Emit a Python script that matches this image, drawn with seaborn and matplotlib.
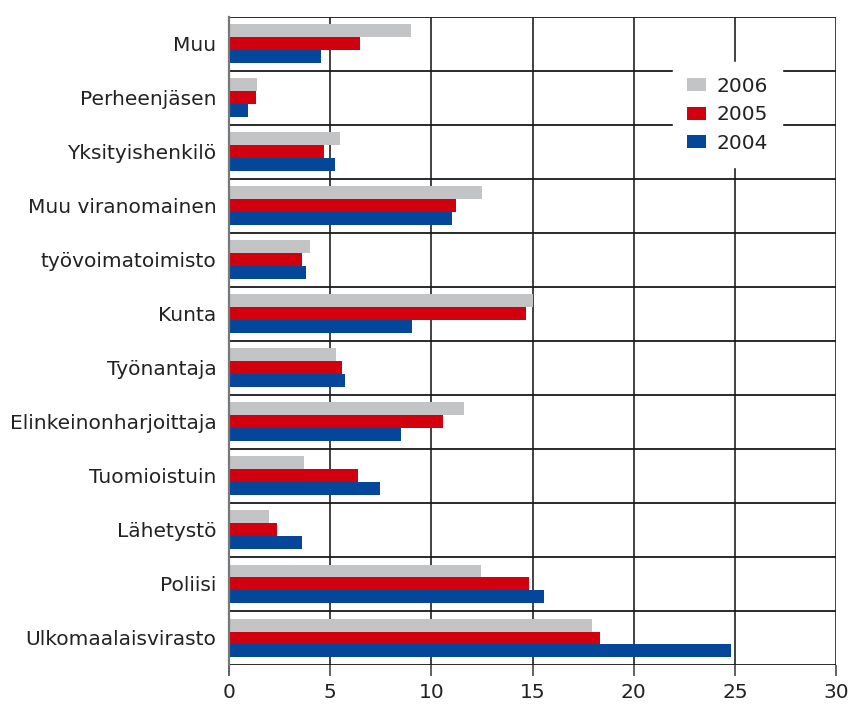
import matplotlib
matplotlib.use("Agg")
import matplotlib.pyplot as plt
import seaborn as sns
import pandas as pd
import numpy as np

categories = ["Muu", "Perheenjäsen", "Yksityishenkilö", "Muu viranomainen",
              "työvoimatoimisto", "Kunta", "Työnantaja", "Elinkeinonharjoittaja",
              "Tuomioistuin", "Lähetystö", "Poliisi", "Ulkomaalaisvirasto"]
v2006 = [9.0, 1.4, 5.5, 12.5, 4.0, 15.0, 5.3, 11.6, 3.7, 2.0, 12.45, 17.95]
v2005 = [6.45, 1.35, 4.7, 11.2, 3.6, 14.7, 5.6, 10.6, 6.4, 2.35, 14.85, 18.35]
v2004 = [4.55, 0.95, 5.25, 11.0, 3.8, 9.05, 5.75, 8.5, 7.45, 3.6, 15.55, 24.8]
years = ["2006", "2005", "2004"]
colors = ["#C3C4C6", "#D2000F", "#03469A"]
xticks = [0, 5, 10, 15, 20, 25, 30]

rows = []
for y, vals in zip(years, [v2006, v2005, v2004]):
    for c, v in zip(categories, vals):
        rows.append({"cat": c, "year": y, "val": v})
df = pd.DataFrame(rows)

sns.set_theme(style="white")
plt.rcParams['font.family'] = ['DejaVu Sans']

fig = plt.figure(figsize=(8.53, 7.05), dpi=100)
ax = fig.add_axes([229/853, 1 - 665/705, (836-229)/853, (665-16.7)/705])

sns.barplot(data=df, y="cat", x="val", hue="year", order=categories,
            hue_order=years, palette=colors, orient="h", width=0.72,
            saturation=1, linewidth=0, ax=ax, legend=True)

ax.set_xlim(0, 30)
ax.set_ylim(len(categories) - 0.5, -0.5)
ax.set_xticks(xticks)
ax.set_xticklabels([str(t) for t in xticks])
ax.set_yticks(range(len(categories)))
ax.set_yticklabels(categories)
ax.set_xlabel("")
ax.set_ylabel("")

ax.grid(False)
for b in np.arange(-0.5, len(categories), 1):
    ax.axhline(b, color="#1a1a1a", lw=1.3, zorder=3)
for t in xticks[1:]:
    ax.axvline(t, color="#333333", lw=1.3, zorder=0.5)

for s in ["top", "right", "bottom"]:
    ax.spines[s].set_visible(False)
ax.spines["left"].set_color("#777777")
ax.spines["left"].set_linewidth(1.6)
ax.spines["left"].set_zorder(4)

ax.tick_params(axis="x", which="major", direction="out", length=8, width=1.3,
               color="#555555", labelsize=14.5, pad=5, labelcolor="#222222", bottom=True)
ax.tick_params(axis="y", which="both", length=0, labelsize=14.5, pad=9, labelcolor="#222222")

leg = ax.legend(loc="upper left", bbox_to_anchor=(0.731, 0.93), borderaxespad=0,
                frameon=True, facecolor="white", edgecolor="white", framealpha=1,
                fontsize=14.5, handlelength=0.95, handleheight=0.6, handletextpad=0.5,
                labelspacing=0.48, borderpad=0.72, fancybox=False)
leg.set_zorder(5)
for t in leg.get_texts():
    t.set_color("#222222")

fig.savefig("out.png", dpi=100)
